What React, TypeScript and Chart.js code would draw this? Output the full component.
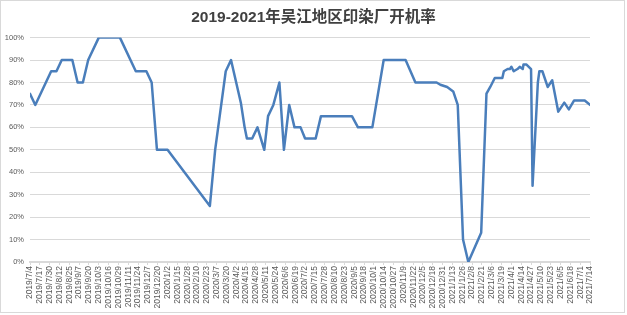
import { useEffect, useRef } from 'react';
import { Chart, registerables } from 'chart.js';

Chart.register(...registerables);

const TITLE = '2019-2021年吴江地区印染厂开机率';
const AXIS_START = '2019-07-04';
const AXIS_END = '2021-07-14';
const TICK_STEP_DAYS = 13;
const Y_MIN = 0;
const Y_MAX = 100;
const Y_STEP = 10;

const dates: string[] = [
  '2019-07-04', '2019-07-11', '2019-08-01', '2019-08-08', '2019-08-15', '2019-08-29',
  '2019-09-05', '2019-09-12', '2019-09-19', '2019-10-03', '2019-10-31', '2019-11-21',
  '2019-12-05', '2019-12-12', '2019-12-19', '2020-01-02', '2020-02-27', '2020-03-05',
  '2020-03-11', '2020-03-19', '2020-03-26', '2020-04-08', '2020-04-13', '2020-04-16',
  '2020-04-23', '2020-04-30', '2020-05-09', '2020-05-14', '2020-05-21', '2020-05-29',
  '2020-06-04', '2020-06-11', '2020-06-18', '2020-06-26', '2020-07-02', '2020-07-16',
  '2020-07-23', '2020-09-02', '2020-09-10', '2020-09-29', '2020-10-14', '2020-11-12',
  '2020-11-25', '2020-12-23', '2020-12-28', '2021-01-06', '2021-01-14', '2021-01-20',
  '2021-01-27', '2021-02-03', '2021-02-20', '2021-02-27', '2021-03-04', '2021-03-10',
  '2021-03-20', '2021-03-22', '2021-03-27', '2021-03-30', '2021-04-01', '2021-04-04',
  '2021-04-09', '2021-04-12', '2021-04-16', '2021-04-17', '2021-04-21', '2021-04-27',
  '2021-04-29', '2021-05-06', '2021-05-08', '2021-05-12', '2021-05-19', '2021-05-25',
  '2021-06-02', '2021-06-10', '2021-06-16', '2021-06-23', '2021-07-07', '2021-07-14',
];

const rates: number[] = [
  75, 70, 85, 85, 90, 90,
  80, 80, 90, 100, 100, 85,
  85, 80, 50, 50, 25, 50,
  65, 85, 90, 71, 60, 55,
  55, 60, 50, 65, 70, 80,
  50, 70, 60, 60, 55, 55,
  65, 65, 60, 60, 90, 90,
  80, 80, 79, 78, 76, 70,
  10, 0, 13, 75, 78, 82,
  82, 85, 86, 86, 87, 85,
  86, 87, 86, 88, 88, 86,
  34, 80, 85, 85, 78, 81,
  67, 71, 68, 72, 72, 70,
];

const DAY_MS = 86400000;
function toUTC(s: string): number {
  const [y, m, d] = s.split('-').map(Number);
  return Date.UTC(y, m - 1, d);
}
const START_MS = toUTC(AXIS_START);
function dayIndex(s: string): number {
  return Math.round((toUTC(s) - START_MS) / DAY_MS);
}
function fmtDay(day: number): string {
  const t = new Date(START_MS + day * DAY_MS);
  return `${t.getUTCFullYear()}/${t.getUTCMonth() + 1}/${t.getUTCDate()}`;
}

const borderPlugin = {
  id: 'outerBorder',
  afterDraw(chart: any) {
    const ctx = chart.ctx;
    ctx.save();
    ctx.strokeStyle = '#d9d9d9';
    ctx.lineWidth = 1;
    ctx.strokeRect(0.5, 0.5, 624, 312);
    ctx.restore();
  },
};

export default function App() {
  const ref = useRef<HTMLCanvasElement | null>(null);

  useEffect(() => {
    if (!ref.current) return;
    const maxDay = dayIndex(AXIS_END);
    const tickDays: number[] = [];
    for (let d = 0; d <= maxDay; d += TICK_STEP_DAYS) tickDays.push(d);

    const chart = new Chart(ref.current, {
      type: 'line',
      data: {
        datasets: [
          {
            label: '开机率',
            data: dates.map((d, i) => ({ x: dayIndex(d), y: rates[i] })),
            borderColor: '#4a7ebb',
            backgroundColor: '#4a7ebb',
            borderWidth: 2.5,
            pointRadius: 0,
            tension: 0,
            borderJoinStyle: 'round',
            borderCapStyle: 'round',
            fill: false,
          },
        ],
      },
      options: {
        responsive: false,
        animation: false,
        layout: { padding: 0 },
        plugins: {
          legend: { display: false },
          tooltip: { enabled: false },
          title: {
            display: true,
            text: TITLE,
            color: '#404040',
            font: {
              family: '"Liberation Sans", "Noto Sans CJK SC", sans-serif',
              size: 15.5,
              weight: 'bold',
            },
            padding: { top: 8, bottom: 11 },
          },
        },
        scales: {
          x: {
            type: 'linear',
            min: 0,
            max: maxDay,
            afterBuildTicks: (s: any) => {
              s.ticks = tickDays.map((v) => ({ value: v }));
            },
            afterFit: (s: any) => {
              s.height = 53;
            },
            grid: {
              display: true,
              drawOnChartArea: false,
              drawTicks: true,
              tickLength: 3,
              color: '#d9d9d9',
            },
            border: { display: true, color: '#d9d9d9', width: 2 },
            ticks: {
              autoSkip: false,
              maxRotation: 90,
              minRotation: 90,
              padding: 1,
              color: '#595959',
              font: { family: '"Liberation Sans", sans-serif', size: 8.5 },
              callback: (v: any) => fmtDay(Number(v)),
            },
          },
          y: {
            type: 'linear',
            min: Y_MIN,
            max: Y_MAX,
            afterFit: (s: any) => {
              s.width = 30;
            },
            grid: { color: '#d9d9d9', drawTicks: false, lineWidth: 1 },
            border: { display: false },
            ticks: {
              stepSize: Y_STEP,
              padding: 6,
              color: '#595959',
              font: { family: '"Liberation Sans", sans-serif', size: 7.5 },
              callback: (v: any) => `${v}%`,
            },
          },
          yRight: {
            type: 'linear',
            position: 'right',
            display: true,
            afterFit: (s: any) => {
              s.width = 37;
            },
            grid: { display: false, drawTicks: false },
            border: { display: false },
            ticks: { display: false },
          },
        },
      },
      plugins: [borderPlugin],
    } as any);

    return () => chart.destroy();
  }, []);

  return (
    <div style={{ position: 'fixed', left: 0, top: 0, width: 627, height: 315, background: '#fff' }}>
      <canvas ref={ref} width={627} height={315} style={{ display: 'block' }} />
    </div>
  );
}
